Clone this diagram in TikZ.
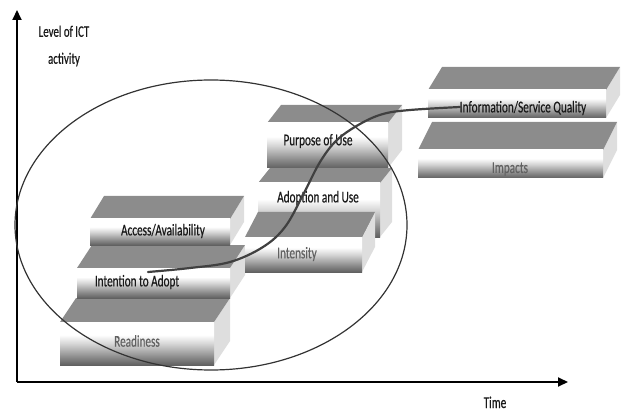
\documentclass[tikz,border=0pt]{standalone}
\usepackage{fontspec}
\setmainfont{Carlito}[FakeStretch=0.68,FakeBold=0.4]
\usetikzlibrary{arrows.meta,positioning}

\pgfdeclareverticalshading{frontshade}{100bp}{color(0bp)=(black!62); color(25bp)=(black!62); color(33bp)=(black!48); color(50bp)=(black!16); color(60bp)=(white); color(75bp)=(white); color(100bp)=(white)}

% one step of the staircase: x1, x2, y of front top, y of front bottom, depth dx, depth dy
\newcommand{\stepblock}[6]{%
  \fill[sideface] (#2,#3) -- (#2+#5,#3-#6) -- (#2+#5,#4-#6) -- (#2,#4) -- cycle;
  \fill[topface] (#1,#3) -- (#2,#3) -- (#2+#5,#3-#6) -- (#1+#5,#3-#6) -- cycle;
  \shade[frontface] (#1,#3) rectangle (#2,#4);
}

\tikzset{
  topface/.style={fill=black!45},
  sideface/.style={fill=black!13},
  frontface/.style={shading=frontshade},
  blocklabel/.style={font=\fontsize{16.5}{18}\selectfont,text=black!90},
  dimlabel/.style={blocklabel,text=black!62},
  axis/.style={line width=2pt,-{Triangle[length=10pt,width=9pt]}},
}

\begin{document}
\begin{tikzpicture}[x=1pt,y=-1pt]
    \useasboundingbox (0,0) rectangle (621,414);

    % axes
    \coordinate (origin) at (17,382);
    \coordinate (ytip) at (17,10);
    \coordinate (xtip) at (568,382);
    \draw[axis] (origin) -- (ytip);
    \draw[axis] (origin) -- (xtip);
    \node[blocklabel,align=center,font=\fontsize{16}{27}\selectfont] (ylabel) at (64,46) {Level of ICT\\activity};
    \node[blocklabel,anchor=base,inner sep=1pt] (xlabel) at (495,408) {Time};

    % left staircase
    \stepblock{60}{214}{322}{365}{16}{24}
    \stepblock{77}{230}{268}{298}{15}{23}
    \stepblock{90}{230}{219}{245}{14}{23}
    \node[dimlabel] (readiness) at (137,341) {Readiness};
    \node[blocklabel] (intention) at (137,282) {Intention to Adopt};
    \node[blocklabel] (access) at (163,231) {Access/Availability};

    % middle staircase
    \stepblock{258}{380}{183}{237}{12}{15}
    \stepblock{245}{362}{237}{272}{13}{25}
    \stepblock{267}{388}{123}{168}{14}{18}
    \node[dimlabel] (intensity) at (297,254) {Intensity};
    \node[blocklabel] (adoption) at (318,198) {Adoption and Use};
    \node[blocklabel] (purpose) at (318,141) {Purpose of Use};

    % right staircase
    \stepblock{418}{603}{150}{178}{14}{28}
    \stepblock{428}{606}{90}{118}{14}{23}
    \node[dimlabel] (impacts) at (510,169) {Impacts};
    \node[blocklabel] (quality) at (523,108) {Information/Service Quality};

    % early stage ring and growth curve
    \draw[black!80,line width=1.2pt] (211,225) ellipse [x radius=196pt,y radius=145pt];
    \draw[black!75,line width=2.2pt,line cap=round] plot[smooth,tension=0.6] coordinates {(148,272) (190,268) (230,262) (263,247) (285,227) (303,195) (320,162) (337,140) (360,124) (383,114) (410,110) (460,107)};
\end{tikzpicture}
\end{document}
